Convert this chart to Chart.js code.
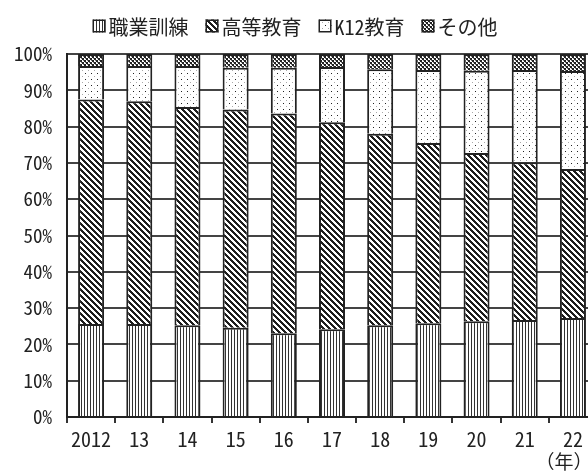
<!DOCTYPE html>
<html lang="ja">
<head>
<meta charset="utf-8">
<title>教育分野別構成比</title>
<script src="https://cdn.jsdelivr.net/npm/chart.js@4/dist/chart.umd.min.js"></script>
<style>
  html, body { margin: 0; padding: 0; background: #fff; overflow: hidden; }
  #wrap { width: 588px; height: 472px; overflow: hidden; }
</style>
</head>
<body>
<div id="wrap"><canvas id="eduChart" width="600" height="472"></canvas></div>
<script>
const years = ["2012", "13", "14", "15", "16", "17", "18", "19", "20", "21", "22"];
const seriesNames = ["職業訓練", "高等教育", "K12教育", "その他"];
const vocational = [25.6, 25.6, 25.3, 24.6, 23.1, 24.2, 25.3, 25.8, 26.4, 26.7, 27.3];
const higherEd = [61.9, 61.4, 60.1, 60.1, 60.5, 57.0, 52.7, 49.7, 46.3, 43.5, 41.0];
const k12 = [9.2, 9.7, 11.3, 11.5, 12.6, 15.2, 17.8, 20.1, 22.7, 25.4, 27.0];
const other = [3.3, 3.3, 3.3, 3.8, 3.8, 3.6, 4.2, 4.4, 4.6, 4.4, 4.7];
const yearUnit = "（年）";

const FONT = "'Noto Sans Mono CJK JP', 'Liberation Sans Narrow', 'Noto Sans CJK JP', sans-serif";
const CJK = "'Noto Sans CJK JP', sans-serif";

function makePattern(size, draw) {
  const c = document.createElement("canvas");
  c.width = size;
  c.height = size;
  const g = c.getContext("2d");
  g.fillStyle = "#fff";
  g.fillRect(0, 0, size, size);
  draw(g, size);
  return g.createPattern(c, "repeat");
}

const patVertical = makePattern(3, (g) => {
  g.fillStyle = "#333";
  g.fillRect(0, 0, 1, 3);
});

// crisp "\" stripes, 3 dark pixels out of 6
const patDiagonal = makePattern(6, (g, s) => {
  g.fillStyle = "#1e1e1e";
  for (let y = 0; y < s; y++) {
    for (let x = 0; x < s; x++) {
      if ((x - y + s) % s < 3) g.fillRect(x, y, 1, 1);
    }
  }
});

const patDots = makePattern(6, (g) => {
  g.fillStyle = "#222";
  g.fillRect(1, 1, 1, 1);
  g.fillStyle = "#aaa";
  g.fillRect(4, 4, 1, 1);
});

const patCross = makePattern(4, (g) => {
  g.fillStyle = "#222";
  g.fillRect(0, 0, 2, 2);
  g.fillRect(2, 2, 2, 2);
  g.fillStyle = "#777";
  g.fillRect(1, 2, 1, 1);
  g.fillRect(3, 0, 1, 1);
});

const patterns = [patVertical, patDiagonal, patDots, patCross];

// legend drawn by hand so the box sits right next to its text
const legendPlugin = {
  id: "tightLegend",
  afterDraw(chart) {
    const ctx = chart.ctx;
    const box = 13, gap = 3, spacing = 17, centerX = 295, midY = 26;
    ctx.save();
    ctx.font = "20px " + FONT;
    const widths = seriesNames.map((n) => ctx.measureText(n).width);
    const total = widths.reduce((a, w) => a + box + gap + w, 0) + spacing * (seriesNames.length - 1);
    let x = centerX - total / 2;
    ctx.textBaseline = "middle";
    ctx.textAlign = "left";
    seriesNames.forEach((name, i) => {
      ctx.fillStyle = patterns[i];
      ctx.fillRect(x, midY - box / 2, box, box);
      ctx.strokeStyle = "#222";
      ctx.lineWidth = 1.5;
      ctx.strokeRect(x + 0.75, midY - box / 2 + 0.75, box - 1.5, box - 1.5);
      ctx.fillStyle = "#222";
      ctx.fillText(name, x + box + gap, midY + 1);
      x += box + gap + widths[i] + spacing;
    });
    // year unit under the last label
    ctx.font = "19px " + CJK;
    ctx.textAlign = "center";
    ctx.fillText(yearUnit, 564, 462);
    ctx.restore();
  }
};

const ctx = document.getElementById("eduChart").getContext("2d");
new Chart(ctx, {
  type: "bar",
  data: {
    labels: years,
    datasets: [
      { label: seriesNames[0], data: vocational, backgroundColor: patterns[0] },
      { label: seriesNames[1], data: higherEd, backgroundColor: patterns[1] },
      { label: seriesNames[2], data: k12, backgroundColor: patterns[2] },
      { label: seriesNames[3], data: other, backgroundColor: patterns[3] },
    ],
  },
  options: {
    responsive: false,
    animation: false,
    layout: { padding: { top: 54, right: 3, left: 0, bottom: 0 } },
    datasets: {
      bar: {
        borderColor: "#222",
        borderWidth: 2,
        barPercentage: 0.54,
        categoryPercentage: 1,
      },
    },
    plugins: {
      legend: { display: false },
      tooltip: { enabled: false },
    },
    scales: {
      x: {
        stacked: true,
        offset: true,
        grid: { offset: true, drawOnChartArea: false, tickLength: 6, color: "#333", lineWidth: 2 },
        border: { color: "#222", width: 2 },
        ticks: { color: "#222", font: { family: FONT, size: 20 }, padding: 4, maxRotation: 0 },
        afterFit: (s) => { s.height = 55; },
      },
      y: {
        stacked: true,
        min: 0,
        max: 100,
        ticks: {
          stepSize: 10,
          callback: (v) => v + "%",
          color: "#222",
          font: { family: FONT, size: 19 },
          padding: 15,
        },
        grid: { color: "#444", lineWidth: 2, drawTicks: false },
        border: { color: "#222", width: 2 },
        afterFit: (s) => { s.width = 67; },
      },
    },
  },
  plugins: [legendPlugin],
});
</script>
</body>
</html>
